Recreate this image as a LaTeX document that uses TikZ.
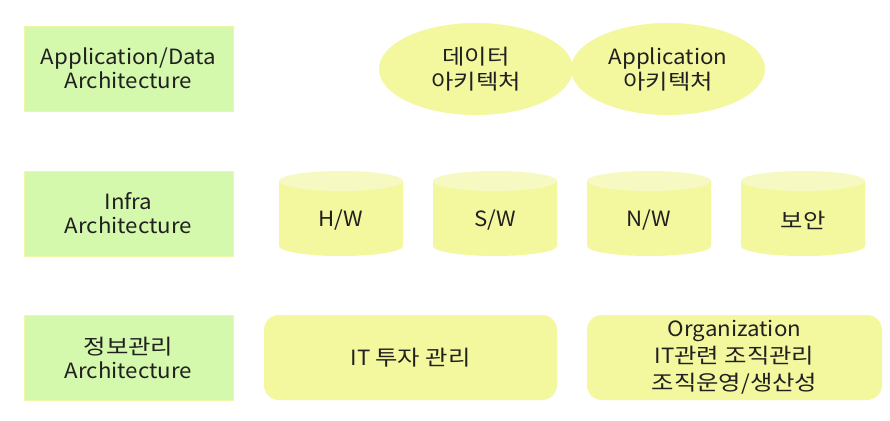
\documentclass[tikz,border=0pt]{standalone}
\usepackage{fontspec}
\setmainfont[FakeStretch=1.06]{Noto Sans CJK KR}
\newfontfamily\krfont[FakeStretch=1.16]{Noto Sans CJK KR}
\newcommand{\kr}[1]{{\krfont #1}}
\usetikzlibrary{shapes.geometric}
\definecolor{gfill}{HTML}{D4F8AC}
\definecolor{gline}{HTML}{EEF7A6}
\definecolor{yfill}{HTML}{F3F79E}
\definecolor{ytop}{HTML}{F6F9C2}
\definecolor{txt}{HTML}{202020}
\tikzset{
  lbl/.style={draw=gline, line width=0.8pt, fill=gfill, minimum width=209pt, minimum height=85pt, inner sep=0pt, align=center, text=txt, font=\fontsize{21}{24}\selectfont},
  oval/.style={ellipse, fill=yfill, minimum width=194pt, minimum height=92pt, inner sep=0pt, align=center, text=txt, font=\fontsize{21}{25}\selectfont},
  rbox/.style={rounded corners=15pt, fill=yfill, minimum height=85pt, inner sep=0pt, align=center, text=txt, font=\fontsize{21}{27}\selectfont},
  ctext/.style={text=txt, font=\fontsize{21}{24}\selectfont, inner sep=0pt}
}
\newcommand{\mycyl}[3]{% x0, name, text
  \fill[yfill] (#1,181) -- (#1,246) arc[start angle=180, end angle=0, x radius=62, y radius=10] -- (#1+124,181) -- cycle;
  \fill[ytop] (#1+62,181) ellipse[x radius=62, y radius=10];
  \node[ctext] (#2) at (#1+62,220) {#3};
}
\begin{document}
\begin{tikzpicture}[x=1pt,y=-1pt]
\useasboundingbox (0,0) rectangle (890,420);
\fill[white] (0,0) rectangle (890,420);
% left labels
\node[lbl] (l1) at (128.5,68.5) {Application/Data\\Architecture};
\node[lbl] (l2) at (128.5,213.5) {Infra\\Architecture};
\node[lbl] (l3) at (128.5,357.5) {\kr{정보관리}\\Architecture};
% ellipses
\node[oval] (e1) at (476,69) {\kr{데이터}\\\kr{아키텍처}};
\node[oval] (e2) at (668,69) {Application\\\kr{아키텍처}};
% cylinders
\mycyl{279}{c1}{H/W}
\mycyl{433}{c2}{S/W}
\mycyl{587}{c3}{N/W}
\mycyl{741}{c4}{\kr{보안}}
% bottom boxes
\node[rbox, minimum width=293pt] (b1) at (410.5,357.5) {IT \kr{투자 관리}};
\node[rbox, minimum width=295pt] (b2) at (734.5,357.5) {Organization\\IT\kr{관련 조직관리}\\\kr{조직운영}/\kr{생산성}};
\end{tikzpicture}
\end{document}
